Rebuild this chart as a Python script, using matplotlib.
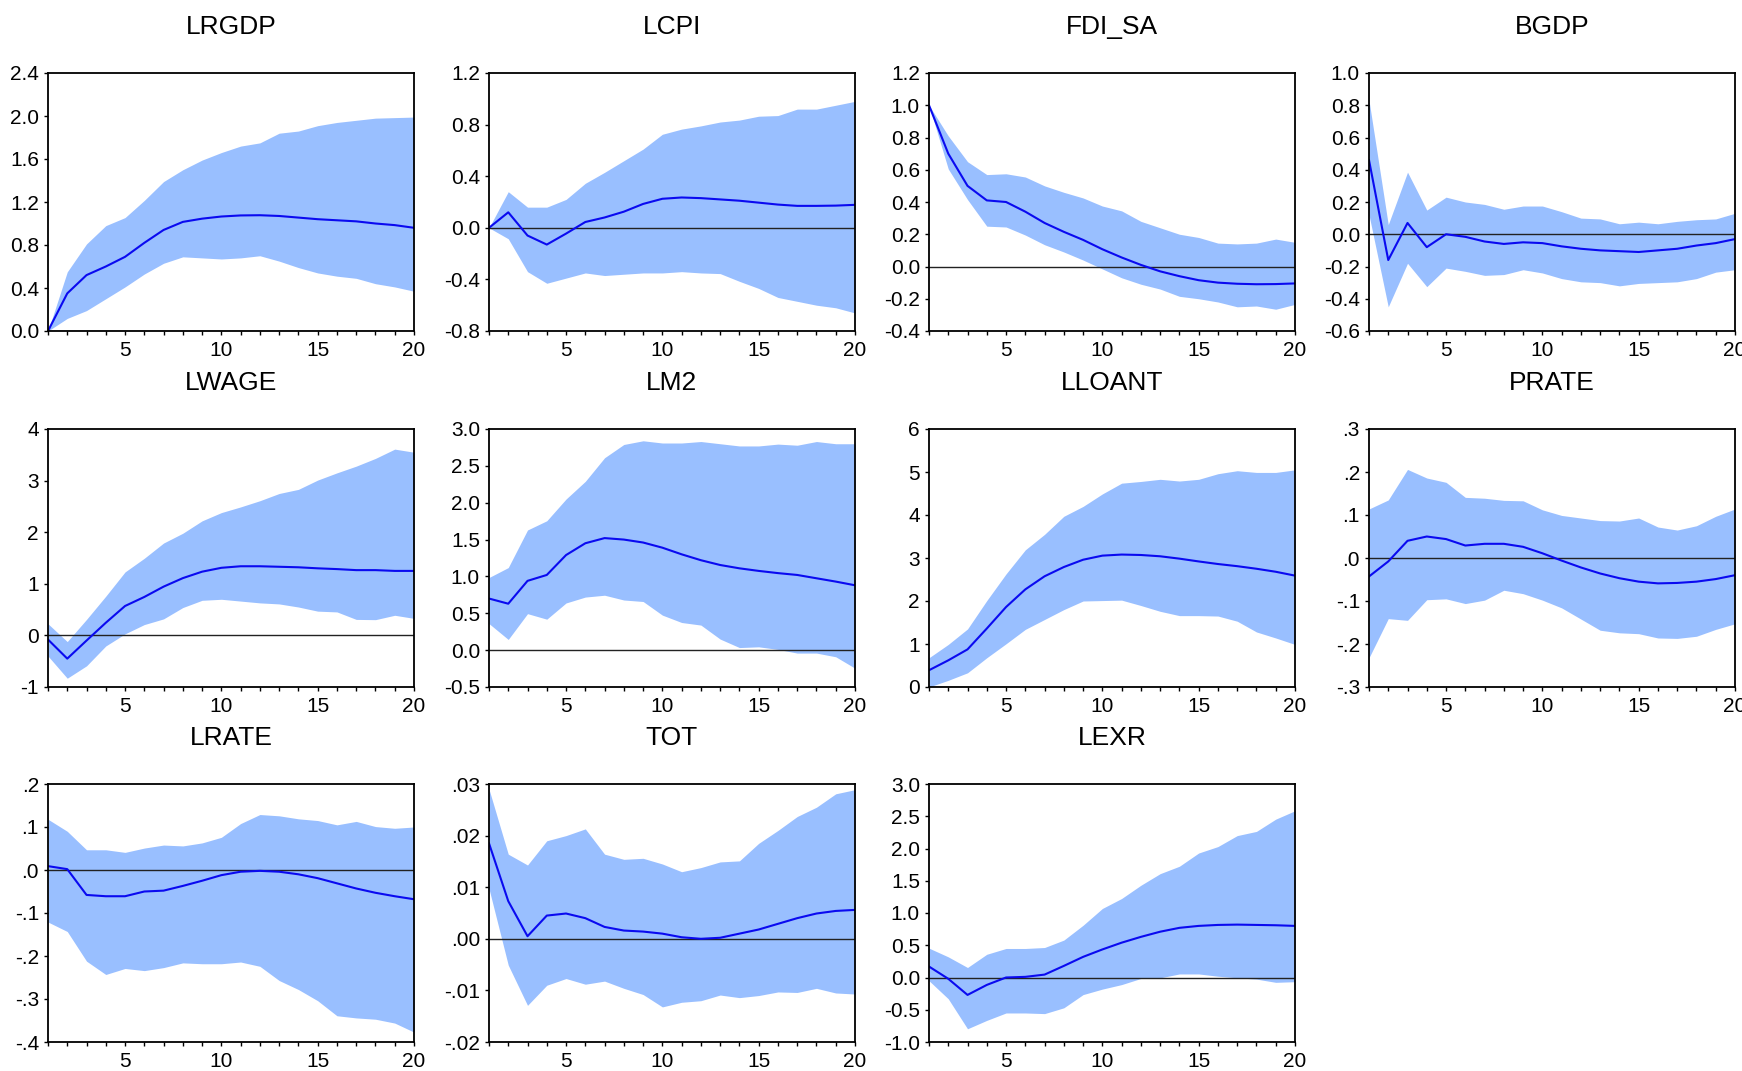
import numpy as np
import matplotlib.pyplot as plt

plt.rcParams['font.family'] = ['Liberation Sans', 'DejaVu Sans']

steps = np.arange(1, 21)

# impulse responses (line) and confidence bands (lo / hi)
lrgdp_irf = [0.0, 0.35, 0.52, 0.60, 0.69, 0.82, 0.94, 1.015, 1.045, 1.065, 1.075, 1.077, 1.07, 1.055, 1.04, 1.03, 1.02, 1.0, 0.985, 0.96]
lrgdp_hi = [0.0, 0.55, 0.81, 0.98, 1.055, 1.215, 1.39, 1.50, 1.59, 1.66, 1.72, 1.75, 1.84, 1.86, 1.91, 1.94, 1.96, 1.98, 1.985, 1.99]
lrgdp_lo = [0.0, 0.117, 0.19, 0.30, 0.41, 0.53, 0.63, 0.69, 0.68, 0.67, 0.68, 0.70, 0.65, 0.59, 0.54, 0.51, 0.49, 0.44, 0.41, 0.37]

lcpi_irf = [0.0, 0.12, -0.06, -0.13, -0.045, 0.045, 0.08, 0.125, 0.185, 0.225, 0.235, 0.23, 0.22, 0.21, 0.195, 0.18, 0.17, 0.17, 0.172, 0.178]
lcpi_hi = [0.0, 0.28, 0.16, 0.16, 0.22, 0.345, 0.43, 0.52, 0.61, 0.725, 0.765, 0.79, 0.82, 0.835, 0.865, 0.87, 0.92, 0.92, 0.95, 0.98]
lcpi_lo = [0.0, -0.085, -0.34, -0.43, -0.39, -0.35, -0.37, -0.36, -0.35, -0.35, -0.34, -0.35, -0.355, -0.415, -0.47, -0.54, -0.57, -0.60, -0.62, -0.66]

fdi_irf = [1.0, 0.70, 0.50, 0.41, 0.40, 0.34, 0.27, 0.215, 0.165, 0.107, 0.056, 0.01, -0.03, -0.06, -0.085, -0.10, -0.107, -0.11, -0.109, -0.105]
fdi_hi = [1.0, 0.81, 0.65, 0.57, 0.575, 0.555, 0.50, 0.46, 0.425, 0.375, 0.345, 0.28, 0.24, 0.20, 0.18, 0.145, 0.14, 0.145, 0.17, 0.15]
fdi_lo = [1.0, 0.605, 0.415, 0.25, 0.245, 0.195, 0.135, 0.09, 0.04, -0.015, -0.07, -0.11, -0.14, -0.185, -0.20, -0.22, -0.25, -0.245, -0.265, -0.235]

bgdp_irf = [0.46, -0.16, 0.07, -0.08, 0.0, -0.016, -0.045, -0.06, -0.05, -0.055, -0.075, -0.09, -0.10, -0.105, -0.11, -0.10, -0.09, -0.07, -0.055, -0.03]
bgdp_hi = [0.83, 0.06, 0.385, 0.15, 0.23, 0.20, 0.185, 0.155, 0.175, 0.175, 0.14, 0.10, 0.095, 0.065, 0.075, 0.065, 0.08, 0.09, 0.095, 0.13]
bgdp_lo = [0.12, -0.45, -0.18, -0.325, -0.21, -0.23, -0.255, -0.25, -0.22, -0.24, -0.275, -0.295, -0.30, -0.32, -0.305, -0.30, -0.295, -0.275, -0.235, -0.22]

lwage_irf = [-0.08, -0.45, -0.10, 0.245, 0.57, 0.745, 0.945, 1.11, 1.235, 1.31, 1.34, 1.34, 1.33, 1.32, 1.30, 1.285, 1.265, 1.265, 1.25, 1.25]
lwage_hi = [0.225, -0.12, 0.31, 0.76, 1.23, 1.495, 1.79, 1.98, 2.22, 2.38, 2.49, 2.61, 2.75, 2.83, 3.01, 3.15, 3.28, 3.43, 3.61, 3.55]
lwage_lo = [-0.40, -0.83, -0.59, -0.205, 0.03, 0.21, 0.32, 0.54, 0.68, 0.70, 0.665, 0.63, 0.61, 0.55, 0.47, 0.455, 0.31, 0.305, 0.39, 0.33]

lm2_irf = [0.70, 0.63, 0.94, 1.02, 1.29, 1.45, 1.52, 1.50, 1.46, 1.39, 1.30, 1.22, 1.155, 1.11, 1.075, 1.045, 1.02, 0.975, 0.93, 0.88]
lm2_hi = [0.985, 1.12, 1.63, 1.755, 2.05, 2.29, 2.61, 2.79, 2.84, 2.81, 2.81, 2.83, 2.80, 2.77, 2.77, 2.795, 2.78, 2.83, 2.80, 2.80]
lm2_lo = [0.36, 0.145, 0.495, 0.42, 0.64, 0.72, 0.745, 0.68, 0.66, 0.475, 0.375, 0.34, 0.15, 0.035, 0.045, 0.01, -0.04, -0.04, -0.09, -0.245]

lloant_irf = [0.39, 0.62, 0.875, 1.36, 1.86, 2.27, 2.575, 2.79, 2.96, 3.055, 3.08, 3.07, 3.04, 2.985, 2.92, 2.86, 2.81, 2.75, 2.68, 2.59]
lloant_hi = [0.68, 0.99, 1.35, 2.01, 2.63, 3.19, 3.55, 3.97, 4.20, 4.49, 4.74, 4.78, 4.83, 4.79, 4.83, 4.96, 5.03, 4.99, 4.99, 5.05]
lloant_lo = [0.0, 0.155, 0.33, 0.68, 1.005, 1.34, 1.57, 1.80, 2.00, 2.01, 2.02, 1.895, 1.76, 1.66, 1.66, 1.65, 1.53, 1.28, 1.14, 0.99]

prate_irf = [-0.043, -0.008, 0.040, 0.050, 0.044, 0.029, 0.033, 0.033, 0.026, 0.011, -0.006, -0.022, -0.036, -0.047, -0.055, -0.059, -0.058, -0.055, -0.049, -0.040]
prate_hi = [0.114, 0.135, 0.206, 0.186, 0.176, 0.141, 0.139, 0.134, 0.133, 0.112, 0.099, 0.093, 0.087, 0.086, 0.093, 0.072, 0.065, 0.075, 0.097, 0.114]
prate_lo = [-0.232, -0.141, -0.145, -0.097, -0.095, -0.106, -0.098, -0.075, -0.083, -0.098, -0.116, -0.142, -0.168, -0.174, -0.176, -0.186, -0.187, -0.182, -0.166, -0.153]

lrate_irf = [0.009, 0.002, -0.058, -0.061, -0.061, -0.050, -0.048, -0.037, -0.025, -0.012, -0.004, -0.002, -0.004, -0.010, -0.019, -0.031, -0.043, -0.053, -0.061, -0.068]
lrate_hi = [0.118, 0.090, 0.047, 0.047, 0.041, 0.051, 0.058, 0.056, 0.063, 0.076, 0.108, 0.129, 0.126, 0.119, 0.115, 0.105, 0.113, 0.101, 0.097, 0.100]
lrate_lo = [-0.121, -0.143, -0.212, -0.243, -0.229, -0.234, -0.227, -0.216, -0.218, -0.218, -0.214, -0.224, -0.257, -0.278, -0.304, -0.339, -0.344, -0.347, -0.356, -0.377]

tot_irf = [0.0185, 0.0073, 0.0005, 0.0045, 0.0049, 0.0040, 0.0023, 0.0016, 0.0014, 0.0010, 0.0003, 0.0, 0.0002, 0.0010, 0.0018, 0.0029, 0.0040, 0.0049, 0.0054, 0.0056]
tot_hi = [0.029, 0.0164, 0.0143, 0.019, 0.020, 0.0213, 0.0164, 0.0154, 0.0156, 0.0145, 0.013, 0.0138, 0.0149, 0.0151, 0.0185, 0.021, 0.0237, 0.0255, 0.0281, 0.0289]
tot_lo = [0.0097, -0.0051, -0.0129, -0.009, -0.0077, -0.0088, -0.0082, -0.0096, -0.0108, -0.0132, -0.0123, -0.012, -0.0109, -0.0114, -0.011, -0.0103, -0.0104, -0.0096, -0.0105, -0.0107]

lexr_irf = [0.17, -0.02, -0.27, -0.115, 0.0, 0.01, 0.045, 0.18, 0.32, 0.435, 0.54, 0.63, 0.71, 0.77, 0.80, 0.815, 0.82, 0.815, 0.81, 0.80]
lexr_hi = [0.455, 0.32, 0.155, 0.36, 0.45, 0.45, 0.465, 0.58, 0.81, 1.07, 1.225, 1.43, 1.61, 1.725, 1.93, 2.03, 2.20, 2.265, 2.455, 2.585]
lexr_lo = [-0.05, -0.33, -0.795, -0.665, -0.55, -0.55, -0.56, -0.47, -0.265, -0.18, -0.11, -0.015, -0.005, 0.055, 0.055, 0.02, -0.005, -0.025, -0.075, -0.065]

titles = ['LRGDP', 'LCPI', 'FDI_SA', 'BGDP', 'LWAGE', 'LM2', 'LLOANT', 'PRATE', 'LRATE', 'TOT', 'LEXR']

ytick_vals = [
    [0.0, 0.4, 0.8, 1.2, 1.6, 2.0, 2.4],
    [-0.8, -0.4, 0.0, 0.4, 0.8, 1.2],
    [-0.4, -0.2, 0.0, 0.2, 0.4, 0.6, 0.8, 1.0, 1.2],
    [-0.6, -0.4, -0.2, 0.0, 0.2, 0.4, 0.6, 0.8, 1.0],
    [-1, 0, 1, 2, 3, 4],
    [-0.5, 0.0, 0.5, 1.0, 1.5, 2.0, 2.5, 3.0],
    [0, 1, 2, 3, 4, 5, 6],
    [-0.3, -0.2, -0.1, 0.0, 0.1, 0.2, 0.3],
    [-0.4, -0.3, -0.2, -0.1, 0.0, 0.1, 0.2],
    [-0.02, -0.01, 0.0, 0.01, 0.02, 0.03],
    [-1.0, -0.5, 0.0, 0.5, 1.0, 1.5, 2.0, 2.5, 3.0],
]
ytick_txt = [
    ['0.0', '0.4', '0.8', '1.2', '1.6', '2.0', '2.4'],
    ['-0.8', '-0.4', '0.0', '0.4', '0.8', '1.2'],
    ['-0.4', '-0.2', '0.0', '0.2', '0.4', '0.6', '0.8', '1.0', '1.2'],
    ['-0.6', '-0.4', '-0.2', '0.0', '0.2', '0.4', '0.6', '0.8', '1.0'],
    ['-1', '0', '1', '2', '3', '4'],
    ['-0.5', '0.0', '0.5', '1.0', '1.5', '2.0', '2.5', '3.0'],
    ['0', '1', '2', '3', '4', '5', '6'],
    ['-.3', '-.2', '-.1', '.0', '.1', '.2', '.3'],
    ['-.4', '-.3', '-.2', '-.1', '.0', '.1', '.2'],
    ['-.02', '-.01', '.00', '.01', '.02', '.03'],
    ['-1.0', '-0.5', '0.0', '0.5', '1.0', '1.5', '2.0', '2.5', '3.0'],
]

irfs = [lrgdp_irf, lcpi_irf, fdi_irf, bgdp_irf, lwage_irf, lm2_irf, lloant_irf, prate_irf, lrate_irf, tot_irf, lexr_irf]
his = [lrgdp_hi, lcpi_hi, fdi_hi, bgdp_hi, lwage_hi, lm2_hi, lloant_hi, prate_hi, lrate_hi, tot_hi, lexr_hi]
los = [lrgdp_lo, lcpi_lo, fdi_lo, bgdp_lo, lwage_lo, lm2_lo, lloant_lo, prate_lo, lrate_lo, tot_lo, lexr_lo]

fig = plt.figure(figsize=(17.42, 10.71), dpi=100)

W, H = 1742., 1071.
col_left = [48, 489, 929, 1369]
row_top = [73, 429, 784]
aw, ah = 366, 258

for k, name in enumerate(titles):
    r, c = divmod(k, 4)
    ax = fig.add_axes([col_left[c] / W, (H - row_top[r] - ah) / H, aw / W, ah / H])
    ax.fill_between(steps, los[k], his[k], color='#99bfff', lw=0)
    ax.axhline(0, color='#222222', lw=1.0)
    ax.plot(steps, irfs[k], color='#0a0af0', lw=1.5)
    ax.set_xlim(1, 20)
    ax.set_ylim(ytick_vals[k][0], ytick_vals[k][-1])
    ax.set_xticks(steps)
    ax.set_xticklabels([str(s) if s % 5 == 0 else '' for s in steps])
    ax.set_yticks(ytick_vals[k])
    ax.set_yticklabels(ytick_txt[k])
    ax.tick_params(direction='out', length=3, width=1.0, labelsize=15, pad=3.5)
    ax.tick_params(axis='x', pad=4.5)
    for sp in ax.spines.values():
        sp.set_linewidth(1.3)
    ax.set_title(name, fontsize=19, pad=28)

fig.savefig('out.png', dpi=100)
